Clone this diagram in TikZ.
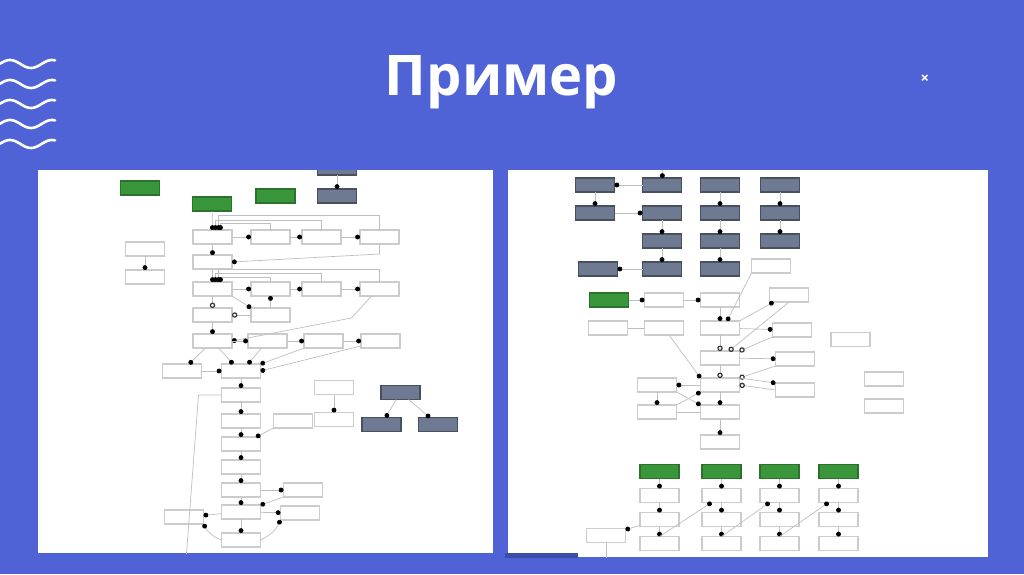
\documentclass[tikz,border=0pt]{standalone}
\usepackage{fontspec}
\setmainfont{Open Sans}
\usetikzlibrary{positioning,arrows.meta}
\definecolor{slideblue}{RGB}{79,99,214}
\definecolor{boxgreen}{RGB}{58,150,58}
\definecolor{boxslate}{RGB}{110,122,146}
\definecolor{tabblue}{RGB}{60,78,170}
\begin{document}
\begin{tikzpicture}[x=1pt,y=-1pt,
  box/.style={draw=gray!40,line width=1.3pt,fill=white,minimum width=39pt,minimum height=14pt,inner sep=0pt,outer sep=0pt},
  gbox/.style={box,fill=boxgreen,draw=boxgreen!75!black},
  sbox/.style={box,fill=boxslate,draw=boxslate!65!black},
  arr/.style={-{Circle[length=4.8pt,black]},draw=gray!50,line width=0.7pt},
  ringarr/.style={-{Circle[open,length=5.4pt,black!80,line width=1.2pt]},draw=gray!50,line width=0.7pt},
  link/.style={draw=gray!50,line width=0.7pt},
  wave/.style={white,line width=2.6pt,line cap=round}]
  \fill[slideblue] (0,0) rectangle (1024,574);
  \useasboundingbox (0,0) rectangle (1024,574);
  % slide decoration
  \foreach \c in {64,84,104,124,144}
    \draw[wave] plot[domain=0:55,samples=40] (\x,{\c-4*cos(360*(\x-10)/42)});
  \node[anchor=base,text=white,font=\fontsize{56}{56}\selectfont\bfseries] (title) at (501.5,95) {Пример};
  \node[text=white,font=\fontsize{15}{15}\selectfont\bfseries] (close) at (925,79) {×};

  % left screenshot
  \begin{scope}
  \clip (38,170) rectangle (493,553);
  \fill[white] (38,170) rectangle (493,553);
  \node[gbox] (lgr1) at (140,188) {};
  \node[gbox] (lgr2) at (212,204) {};
  \node[gbox] (lgr3) at (275.5,196) {};
  \node[sbox] (lt4) at (337,196) {};
  \node[sbox,above=14pt of lt4] (lt0) {};
  \node[box] (ls1) at (145,249) {};
  \node[box,below=14pt of ls1] (ls2) {};
  \node[box] (la1) at (212.5,237) {};
  \node[box,right=19pt of la1] (la2) {};
  \node[box,right=12pt of la2] (la3) {};
  \node[box,right=19pt of la3] (la4) {};
  \node[box,below=11pt of la1] (lb1) {};
  \node[box,below=13pt of lb1] (lc1) {};
  \node[box,right=19pt of lc1] (lc2) {};
  \node[box,right=12pt of lc2] (lc3) {};
  \node[box,right=19pt of lc3] (lc4) {};
  \node[box,below=12pt of lc1] (ld1) {};
  \node[box,below=12pt of lc2] (ld2) {};
  \node[box,below=12pt of ld1] (le1) {};
  \node[box,right=16pt of le1] (le2) {};
  \node[box,right=17pt of le2] (le3) {};
  \node[box,right=18pt of le3] (le4) {};
  \node[box] (lf1) at (241,371) {};
  \node[box,left=20pt of lf1] (lf0) {};
  \node[box,below=10pt of lf1] (lg1) {};
  \node[box,below=12pt of lg1] (lh1) {};
  \node[box,right=13pt of lh1] (lh2) {};
  \node[box,below=9pt of lh1] (li1) {};
  \node[box,below=9pt of li1] (lj1) {};
  \node[box,below=9pt of lj1] (lk1) {};
  \node[box,right=23pt of lk1] (lk2) {};
  \node[box,below=8pt of lk1] (ll1) {};
  \node[box,left=18pt of ll1,yshift=-5pt] (ll0) {};
  \node[box,right=20pt of ll1,yshift=-1pt] (ll2) {};
  \node[box,below=14pt of ll1] (lm1) {};
  \node[box] (ln1) at (334,387.5) {};
  \node[box,below=18pt of ln1] (ln2) {};
  \node[sbox] (lp) at (400.5,392.5) {};
  \node[sbox] (lq) at (381.5,424.5) {};
  \node[sbox] (lr) at (438,424.5) {};
  \coordinate (lend) at (186,560);

  \draw[arr] (lt0) -- (lt4);
  \draw[arr] (lgr2) -- (la1);
  \draw[arr] (la1) -- (la2);
  \draw[arr] (la2) -- (la3);
  \draw[arr] (la3) -- (la4);
  \draw[arr] (la4.north) -- ++(0,-15) -| ([xshift=6pt]la1.north);
  \draw[arr] (la3.north) -- ++(0,-10) -| ([xshift=3pt]la1.north);
  \draw[arr] (la2.north) -- ++(0,-7) -| ([xshift=8pt]la1.north);
  \draw[arr] (la1) -- (lb1);
  \draw[arr] (la4.south) -- ++(0,10) -- (lb1.east);
  \draw[arr] (lb1) -- (lc1);
  \draw[arr] (lc1) -- (lc2);
  \draw[arr] (lc2) -- (lc3);
  \draw[arr] (lc3) -- (lc4);
  \draw[arr] (lc4.north) -- ++(0,-13) -| ([xshift=6pt]lc1.north);
  \draw[arr] (lc3.north) -- ++(0,-9) -| ([xshift=3pt]lc1.north);
  \draw[arr] (lc2.north) -- ++(0,-5) -| ([xshift=8pt]lc1.north);
  \draw[ringarr] (lc1) -- (ld1);
  \draw[arr] (lc1.south east) -- (ld2.north west);
  \draw[arr] (ld2) -- (lc2);
  \draw[ringarr] (ld2) -- (ld1);
  \draw[arr] (ld1) -- (le1);
  \draw[arr] ([xshift=-8pt]lc4.south) -- ++(-20,22) -- (le1.east);
  \draw[arr] (le1) -- (le2);
  \draw[arr] (le2) -- (le3);
  \draw[arr] (le3) -- (le4);
  \draw[arr] (le1) -- (lf0);
  \draw[arr] (le1) -- ([xshift=-8pt]lf1.north);
  \draw[arr] (le2) -- ([xshift=7pt]lf1.north);
  \draw[arr] (le3) -- (lf1.north east);
  \draw[arr] (le4) -- (lf1.east);
  \draw[arr] (lf0) -- (lf1);
  \draw[arr] (lf1) -- (lg1);
  \draw[arr] (lg1) -- (lh1);
  \draw[arr] (lh1) -- (li1);
  \draw[arr] (lh2.south west) -- ([xshift=15pt]li1.north);
  \draw[arr] (li1) -- (lj1);
  \draw[arr] (lj1) -- (lk1);
  \draw[arr] (lk1) -- (lk2);
  \draw[arr] (lk1) -- (ll1);
  \draw[arr] (lk2.south west) -- (ll1.north east);
  \draw[arr] (ll1) -- (ll0);
  \draw[arr] (ll1) -- (ll2);
  \draw[arr] (ll1) -- (lm1);
  \draw[arr] (lm1.west) to[bend left=20] (ll0.south east);
  \draw[arr] (lm1.east) to[bend right=20] (ll2.south west);
  \draw[link] (lg1.west) -- ++(-23,0) -- (lend);
  \draw[arr] (ls1) -- (ls2);
  \draw[arr] (ln1) -- (ln2);
  \draw[arr] (lp) -- (lq);
  \draw[arr] (lp) -- (lr);
  \end{scope}

  % right screenshot
  \begin{scope}
  \clip (508,170) rectangle (988,557);
  \fill[white] (508,170) rectangle (988,557);
  \node[sbox] (ra1) at (595,185) {};
  \node[sbox,right=28pt of ra1] (ra2) {};
  \node[sbox,right=19pt of ra2] (ra3) {};
  \node[sbox,right=21pt of ra3] (ra4) {};
  \node[sbox,below=14pt of ra1] (rb1) {};
  \node[sbox,below=14pt of ra2] (rb2) {};
  \node[sbox,below=14pt of ra3] (rb3) {};
  \node[sbox,below=14pt of ra4] (rb4) {};
  \node[sbox,below=14pt of rb2] (rc2) {};
  \node[sbox,below=14pt of rb3] (rc3) {};
  \node[sbox,below=14pt of rb4] (rc4) {};
  \node[sbox,below=14pt of rc2] (rd2) {};
  \node[sbox,below=14pt of rc3] (rd3) {};
  \node[sbox,left=25pt of rd2] (rd1) {};
  \node[box,right=12pt of rd3,yshift=3pt] (rw1) {};
  \node[gbox] (re1) at (609,300) {};
  \node[box,right=16pt of re1] (re2) {};
  \node[box,right=17pt of re2] (re3) {};
  \node[box,right=30pt of re3,yshift=5pt] (re4) {};
  \node[box,below=14pt of re2] (rf2) {};
  \node[box,below=14pt of re3] (rf3) {};
  \node[box,left=17pt of rf2] (rf1) {};
  \node[box,right=33pt of rf3,yshift=-2pt] (rf4) {};
  \node[box] (rf5) at (850.5,339.5) {};
  \node[box,below=16pt of rf3] (rg3) {};
  \node[box,right=36pt of rg3,yshift=-1pt] (rg4) {};
  \node[box,below=13pt of rg3] (rh2) {};
  \node[box,left=24pt of rh2] (rh1) {};
  \node[box,right=36pt of rh2,yshift=-5pt] (rh3) {};
  \node[box] (rx1) at (884,379) {};
  \node[box,below=13pt of rx1] (rx2) {};
  \node[box,below=13pt of rh2] (ri2) {};
  \node[box,below=13pt of rh1] (ri1) {};
  \node[box,below=16pt of ri2] (rj2) {};
  \node[gbox] (rk1) at (659.5,471.5) {};
  \node[gbox,right=23pt of rk1] (rk2) {};
  \node[gbox,right=19pt of rk2] (rk3) {};
  \node[gbox,right=20pt of rk3] (rk4) {};
  \foreach \i in {1,...,4} {
    \node[box,below=10pt of rk\i] (rl\i) {};
    \node[box,below=10pt of rl\i] (rm\i) {};
    \node[box,below=10pt of rm\i] (rn\i) {};
    \draw[arr] (rk\i) -- (rl\i);
    \draw[arr] (rl\i) -- (rm\i);
    \draw[arr] (rm\i) -- (rn\i);
  }
  \node[box] (ro) at (606,535.5) {};
  \coordinate (rtop) at (663,160);
  \coordinate (rend) at (606,565);

  \draw[arr] (rtop) -- (ra2);
  \draw[arr] (ra2) -- (ra1);
  \draw[arr] (ra1) -- (rb1);
  \draw[arr] (rb1) -- (rb2);
  \draw[arr] (rb2) -- (rc2);
  \draw[arr] (rc2) -- (rd2);
  \draw[arr] (rd2) -- (rd1);
  \draw[arr] (ra3) -- (rb3);
  \draw[arr] (rb3) -- (rc3);
  \draw[arr] (rc3) -- (rd3);
  \draw[arr] (ra4) -- (rb4);
  \draw[arr] (rb4) -- (rc4);
  \draw[arr] (re1) -- (re2);
  \draw[arr] (re2) -- (re3);
  \draw[link] (rf1) -- (rf2);
  \draw[arr] (re3) -- (rf3);
  \draw[arr] (rw1.south west) -- ([xshift=7pt]rf3.north);
  \draw[arr] (rf3) -- (rf4);
  \draw[arr] (rf3.north east) -- ([xshift=4pt]re4.south west);
  \draw[ringarr] (rf3) -- (rg3);
  \draw[ringarr] (rf4.south west) -- (rg3.north east);
  \draw[ringarr] (re4.south) -- ([xshift=9pt]rg3.north);
  \draw[arr] (rg3) -- (rg4);
  \draw[ringarr] (rg3) -- (rh2);
  \draw[arr] (rf2) -- (rh2.north west);
  \draw[ringarr] (rg4.south west) -- (rh2.north east);
  \draw[arr] (rh2.north east) -- (rh3.north west);
  \draw[ringarr] (rh3.west) -- (rh2.east);
  \draw[arr] (rh2) -- (rh1);
  \draw[arr] (rh1) -- (ri1);
  \draw[arr] (ri1.north east) -- (rh2.south west);
  \draw[arr] (rh1.south east) -- (ri2.north west);
  \draw[arr] (rh2) -- (ri2);
  \draw[link] (ri1) -- (ri2);
  \draw[arr] (ri2) -- (rj2);
  \draw[arr] (rn1.north) -- ([xshift=-10pt]rl2.south);
  \draw[arr] (rn2.north) -- ([xshift=-10pt]rl3.south);
  \draw[arr] (rn3.north) -- ([xshift=-10pt]rl4.south);
  \draw[arr] (rm1) -- (ro);
  \draw[link] (ro) -- (rend);
  \end{scope}
  \fill[tabblue] (505,553) rectangle (578,558);
\end{tikzpicture}
\end{document}
